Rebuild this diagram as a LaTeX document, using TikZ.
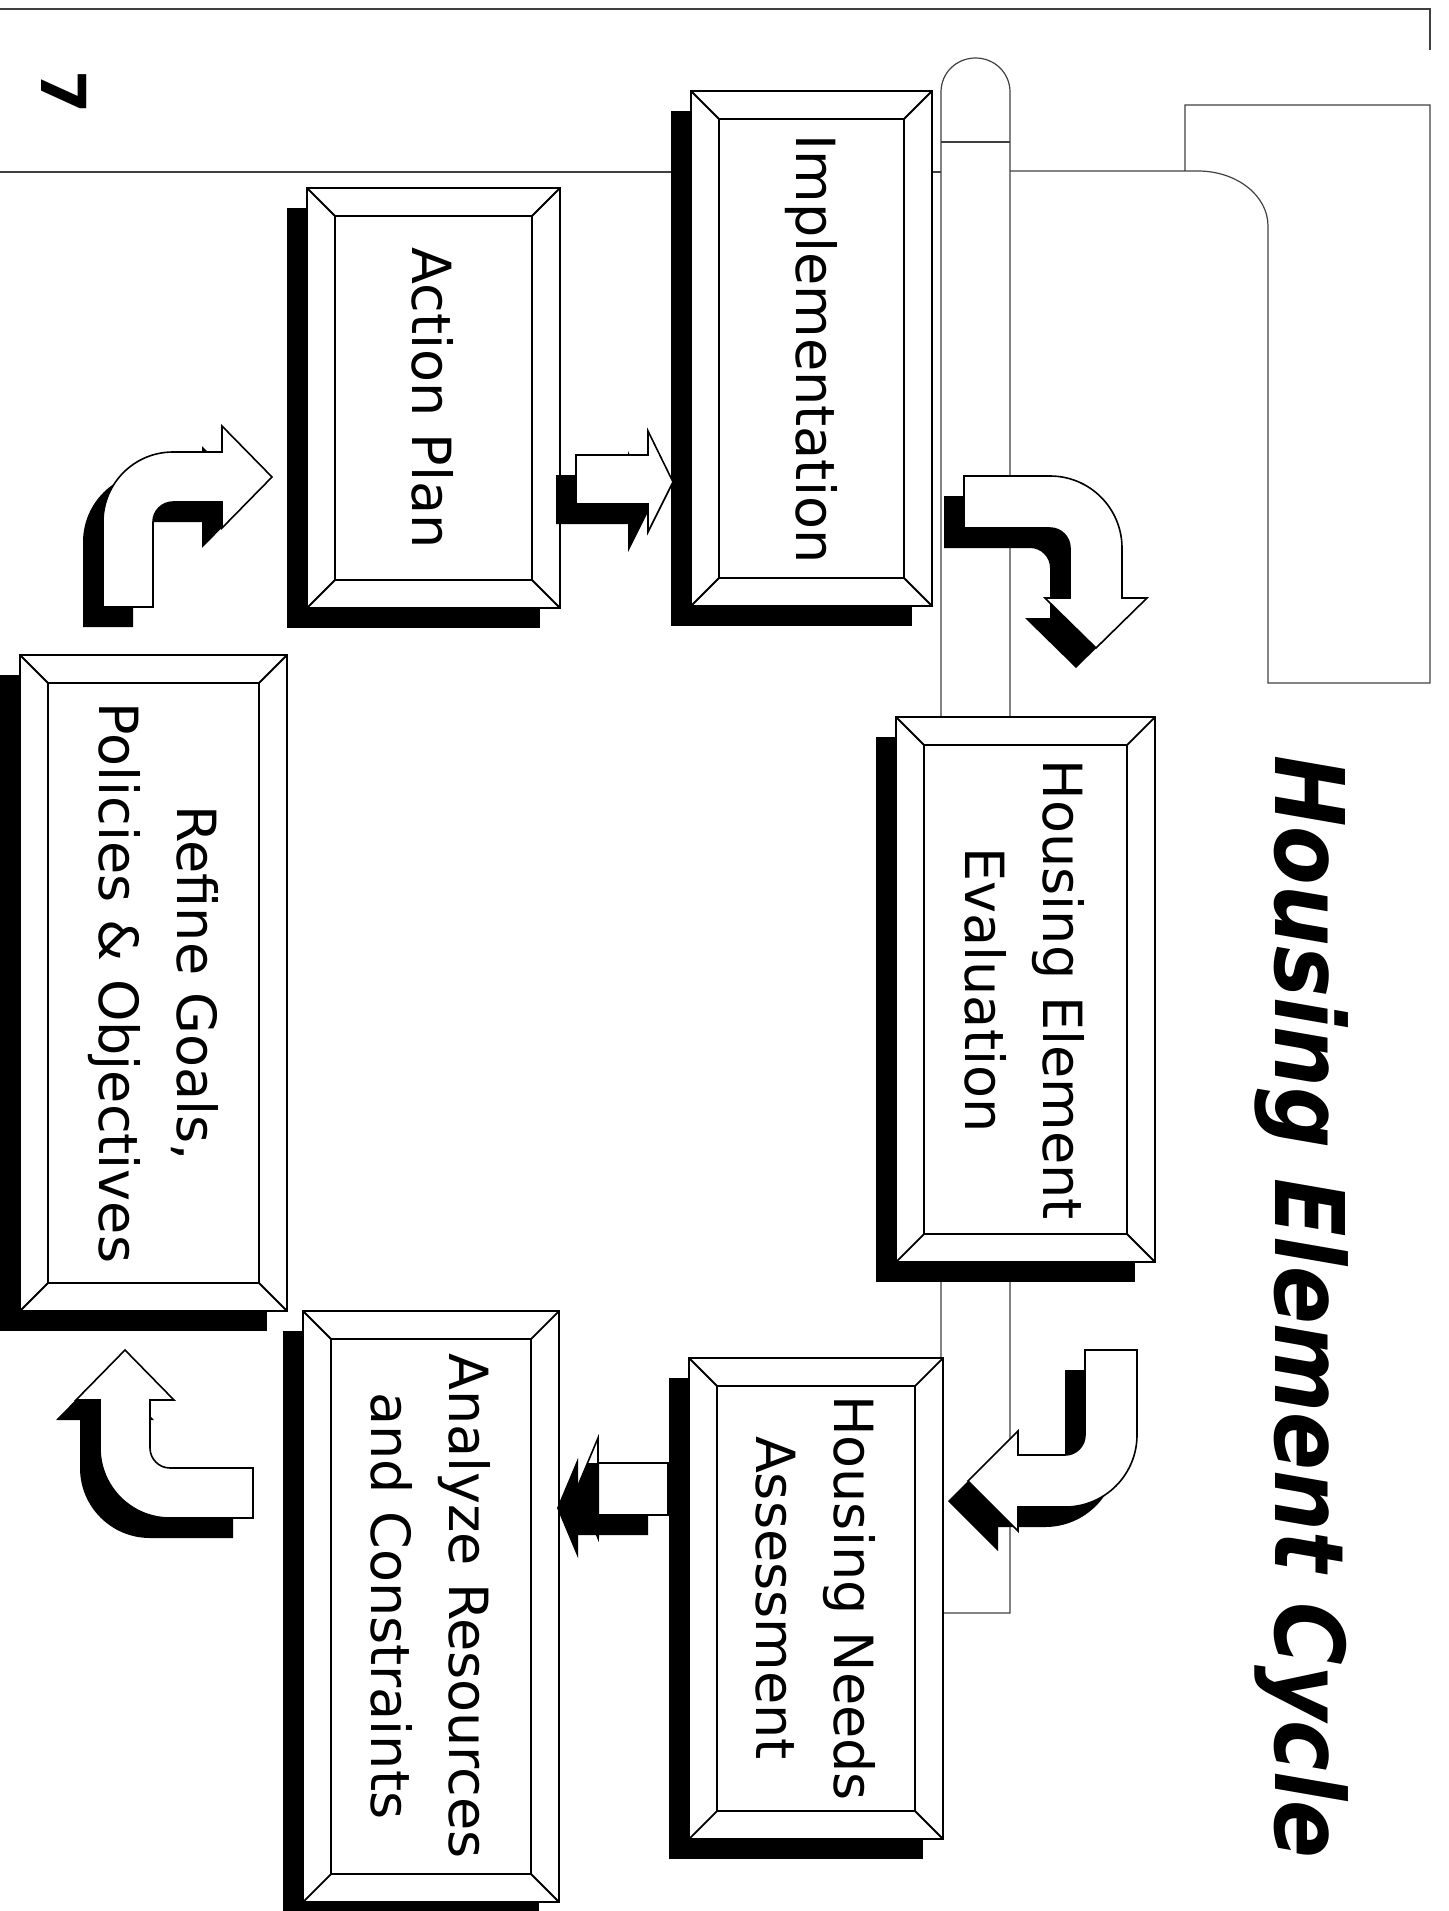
\documentclass[tikz,border=0pt]{standalone}
\usepackage{fontspec}
\setmainfont{DejaVu Sans}
\usepackage{graphicx}
\tikzset{
  boxline/.style={line width=0.9pt, draw=black},
  arrline/.style={line width=0.8pt, draw=black, fill=white},
  pageline/.style={line width=0.6pt, draw=black!75},
  lbl/.style={rotate=-90, align=center, font=\fontsize{27}{39}\selectfont, inner sep=0pt},
  shadowfill/.style={fill=black},
}
\newcommand\bevbox[4]{%
  \fill[shadowfill] ({#1-20},{#2+20}) rectangle ({#3-20},{#4+20});
  \filldraw[boxline, fill=white] (#1,#2) rectangle (#3,#4);
  \draw[boxline] ({#1+28},{#2+28}) rectangle ({#3-28},{#4-28});
  \draw[boxline] (#1,#2) -- ({#1+28},{#2+28}) (#3,#2) -- ({#3-28},{#2+28})
                 (#1,#4) -- ({#1+28},{#4-28}) (#3,#4) -- ({#3-28},{#4-28});
}
\def\ArrOne{(576,455) -- (648,455) -- (648,431) -- (673,482) -- (648,532) -- (648,504) -- (576,504) -- cycle}
\def\ArrTwo{(964,476) -- (1050,476) .. controls (1089.8,476) and (1122,508.2) .. (1122,548) -- (1122,598) -- (1147,598) -- (1096,648) -- (1045,598) -- (1070,598) -- (1070,548) .. controls (1070,537) and (1061,528) .. (1050,528) -- (964,528) -- cycle}
\def\ArrThree{(1085,1350) -- (1137,1350) -- (1137,1435) .. controls (1137,1474.8) and (1104.8,1507) .. (1065,1507) -- (1018,1507) -- (1018,1531) -- (968,1481) -- (1018,1431) -- (1018,1455) -- (1065,1455) .. controls (1076,1455) and (1085,1446) .. (1085,1435) -- cycle}
\def\ArrFour{(668,1463) -- (598,1463) -- (598,1438) -- (577,1488) -- (598,1538) -- (598,1515) -- (668,1515) -- cycle}
\def\ArrFive{(253,1468) -- (170,1468) .. controls (159,1468) and (150,1459) .. (150,1448) -- (150,1400) -- (174,1400) -- (125,1350) -- (76,1400) -- (100,1400) -- (100,1448) .. controls (100,1486.7) and (131.3,1518) .. (170,1518) -- (253,1518) -- cycle}
\def\ArrSix{(103,607) -- (103,522) .. controls (103,483.3) and (134.3,452) .. (173,452) -- (222,452) -- (222,426) -- (272,477) -- (222,528) -- (222,502) -- (173,502) .. controls (162,502) and (153,511) .. (153,522) -- (153,607) -- cycle}
\begin{document}
\begin{tikzpicture}[x=0.5pt,y=-0.5pt]
\useasboundingbox (0,0) rectangle (1449,1911);
% page furniture
\draw[pageline] (0,9) -- (1430,9) -- (1430,50);
\draw[pageline] (0,172) -- (941,172);
\draw[pageline] (1010,171) -- (1198,171) .. controls (1236.7,171) and (1268,195.6) .. (1268,226) -- (1268,683) -- (1430,683) -- (1430,105) -- (1185,105) -- (1185,171);
\filldraw[pageline, fill=white] (941,1613) -- (941,92) .. controls (941,72.9) and (956.4,58) .. (975.5,58) .. controls (994.6,58) and (1010,72.9) .. (1010,92) -- (1010,1613) -- cycle;
\draw[pageline] (941,142) -- (1010,142);
% boxes
\bevbox{307}{188}{560}{608}
\bevbox{691}{91}{932}{606}
\bevbox{896}{717}{1155}{1262}
\bevbox{689}{1358}{943}{1839}
\bevbox{303}{1311}{559}{1902}
\bevbox{20}{655}{287}{1311}
% block arrows
\fill[shadowfill, shift={(-20,20)}] \ArrOne;
\filldraw[arrline] \ArrOne;
\fill[shadowfill, shift={(-20,20)}] \ArrTwo;
\filldraw[arrline] \ArrTwo;
\fill[shadowfill, shift={(-20,20)}] \ArrThree;
\filldraw[arrline] \ArrThree;
\fill[shadowfill, shift={(-20,20)}] \ArrFour;
\filldraw[arrline] \ArrFour;
\fill[shadowfill] (599,1463) -- (587.5,1463) -- (577,1488) -- (598,1538) -- (599,1538) -- cycle;
\fill[shadowfill, shift={(-20,20)}] \ArrFive;
\filldraw[arrline] \ArrFive;
\fill[shadowfill, shift={(-20,20)}] \ArrSix;
\filldraw[arrline] \ArrSix;
% texts
\node[lbl] (ap) at (433,398) {Action Plan};
\node[lbl] (im) at (811,349) {Implementation};
\node[lbl] (ev) at (1025,990) {Housing Element\\Evaluation};
\node[lbl] (hn) at (816,1598) {Housing Needs\\Assessment};
\node[lbl] (an) at (431,1606) {Analyze Resources\\and Constraints};
\node[lbl] (rf) at (153,983) {Refine Goals,\\Policies \& Objectives};
\node[rotate=-90, anchor=base west, inner sep=0pt, font=\fontsize{48}{56}\selectfont\bfseries\itshape] (title) at (1275,755) {\scalebox{0.89}[1]{Housing Element Cycle}};
\node[rotate=-90, inner sep=0pt, font=\fontsize{31}{38}\selectfont\bfseries] (pg) at (64,92) {7};
\end{tikzpicture}
\end{document}
